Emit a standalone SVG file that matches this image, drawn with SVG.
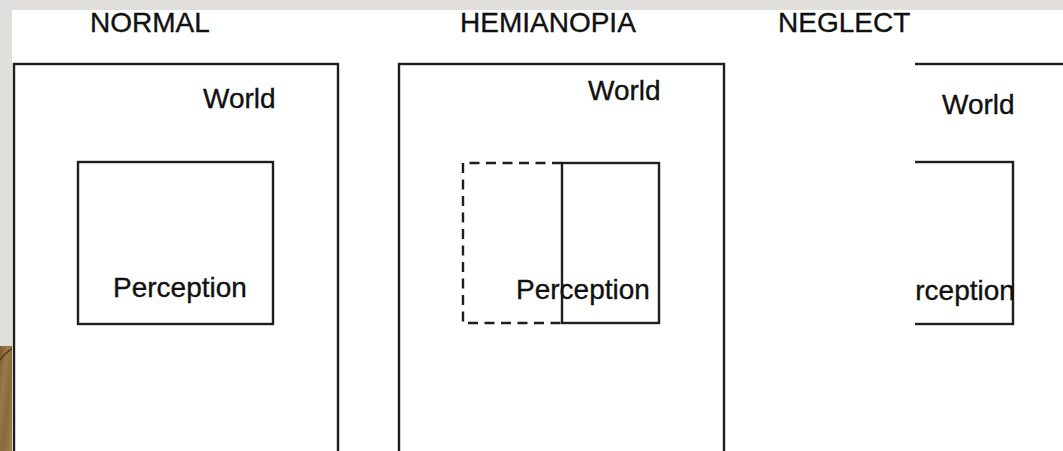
<svg xmlns="http://www.w3.org/2000/svg" width="1063" height="451" viewBox="0 0 1063 451">
  <defs>
    <style>
      .box { fill: none; stroke: #1e1e1e; stroke-width: 2.4; }
      .dash { fill: none; stroke: #1e1e1e; stroke-width: 2.4; stroke-dasharray: 10 6.5; }
      .lbl { font-family: "Liberation Sans", Arial, Helvetica, sans-serif; font-size: 28px; fill: #111; stroke: #111; stroke-width: 0.35; }
    </style>
    <linearGradient id="wood" x1="0" y1="0" x2="1" y2="1">
      <stop offset="0" stop-color="#7a5a2c"/>
      <stop offset="0.3" stop-color="#9a7a48"/>
      <stop offset="0.6" stop-color="#8a6a38"/>
      <stop offset="1" stop-color="#a08050"/>
    </linearGradient>
    <clipPath id="neglectClip">
      <rect x="915" y="0" width="148" height="451"/>
    </clipPath>
  </defs>

  <g id="background">
    <rect x="0" y="0" width="1063" height="451" fill="#e1dfdb"/>
    <rect x="0" y="346" width="12" height="105" fill="url(#wood)"/>
    <path d="M0 360 Q6 352 12 349" stroke="#5a3f1c" stroke-width="1.5" fill="none"/>
    <rect x="12" y="10" width="1051" height="441" fill="#ffffff"/>
  </g>

  <g id="titles">
    <text class="lbl" x="90" y="32">NORMAL</text>
    <text class="lbl" x="460" y="32">HEMIANOPIA</text>
    <text class="lbl" x="778" y="32">NEGLECT</text>
  </g>

  <g id="normal">
    <rect class="box" x="14" y="64" width="324" height="400"/>
    <text class="lbl" x="203" y="108">World</text>
    <rect class="box" x="78" y="162" width="195" height="162"/>
    <text class="lbl" x="113" y="297">Perception</text>
  </g>

  <g id="hemianopia">
    <rect class="box" x="399" y="64" width="325" height="400"/>
    <text class="lbl" x="588" y="100">World</text>
    <path class="dash" d="M562 163 H463 V323 H562"/>
    <rect class="box" x="562" y="163" width="97" height="160"/>
    <text class="lbl" x="516" y="299">Perception</text>
  </g>

  <g id="neglect" clip-path="url(#neglectClip)">
    <rect class="box" x="880" y="64" width="200" height="400"/>
    <text class="lbl" x="942" y="114">World</text>
    <rect class="box" x="880" y="162" width="133" height="162"/>
    <text class="lbl" x="881" y="300">Perception</text>
  </g>

  <g id="connectors"/>
</svg>
